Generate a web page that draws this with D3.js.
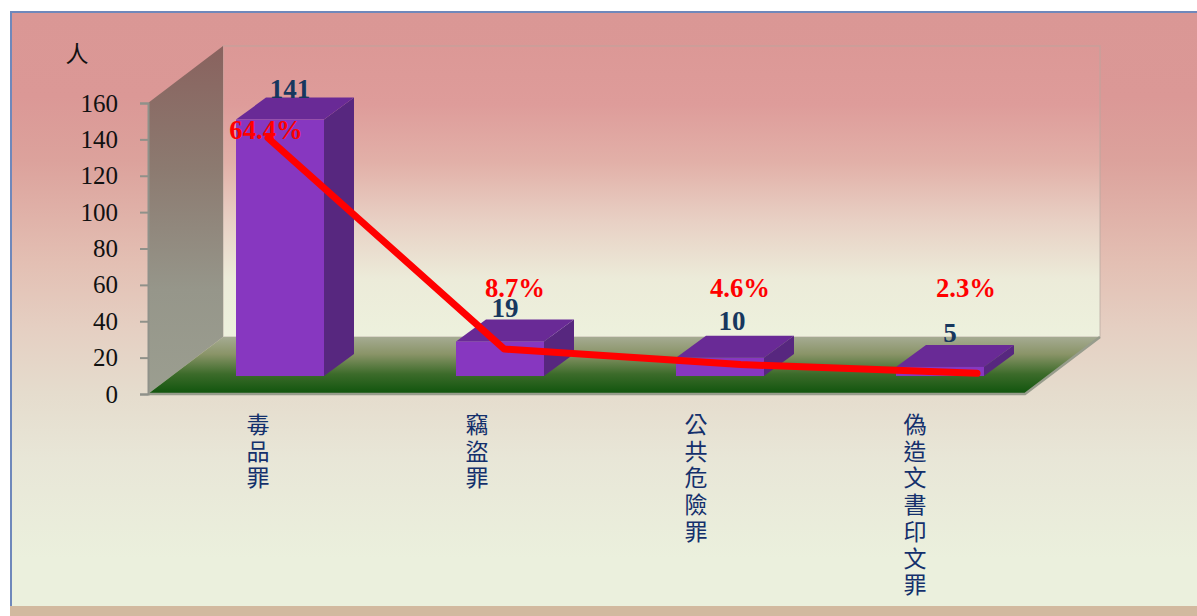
<!DOCTYPE html>
<html>
<head>
<meta charset="utf-8">
<script src="https://cdn.jsdelivr.net/npm/d3@7"></script>
<style>
  html, body { margin: 0; padding: 0; background: #fff; overflow: hidden; }
  svg { display: block; }
</style>
</head>
<body>
<div id="chart"></div>
<script>
// values
var categories = ["毒品罪", "竊盜罪", "公共危險罪", "偽造文書印文罪"];
var counts = [141, 19, 10, 5];
var shares = [64.4, 8.7, 4.6, 2.3];
var yTicks = [0, 20, 40, 60, 80, 100, 120, 140, 160];

// hand placed label nudges, the original labels were dragged around
var countNudge = [{dx: 10, dy: 0}, {dx: 5, dy: -2}, {dx: 12, dy: -6}, {dx: 10, dy: -3}];
var shareNudge = [{x: 266, y: 139}, {x: 515, y: 297}, {x: 740, y: 297}, {x: 966, y: 297}];

var width = 1197, height = 616;
var x0 = 148, x1 = 1025, yBase = 394, yTop = 103;
var depthX = 75, depthY = 57;      // floor depth
var barShiftX = 22, barShiftY = 18; // bars stand a bit back on the floor
var barDepthX = 30, barDepthY = 22;

var svg = d3.select("#chart").append("svg")
  .attr("width", width)
  .attr("height", height);

var defs = svg.append("defs");

function gradient(id, stops, horizontal) {
  var g = defs.append("linearGradient").attr("id", id)
    .attr("x1", 0).attr("y1", 0)
    .attr("x2", horizontal ? 1 : 0).attr("y2", horizontal ? 0 : 1);
  stops.forEach(function(s) {
    g.append("stop").attr("offset", s[0]).attr("stop-color", s[1]);
  });
}

gradient("bgFill", [[0, "#da9795"], [0.14, "#db9896"], [0.25, "#dca29c"], [0.42, "#e3bfb3"], [0.53, "#e5cfc2"], [0.64, "#e5dccd"], [0.75, "#e8e6d7"], [0.92, "#ebf0dd"], [1, "#ebf0dd"]]);
gradient("wallFill", [[0, "#dc9896"], [0.2, "#de9c9a"], [0.4, "#e2b0a8"], [0.6, "#e8d0c4"], [0.8, "#ecebd9"], [1, "#edf1dd"]]);
gradient("sideFill", [[0, "#89625e"], [0.35, "#8c7a70"], [0.7, "#96968a"], [1, "#9b9e90"]]);
gradient("floorFill", [[0, "#a5ab92"], [0.3, "#8a9468"], [0.65, "#3c6b2a"], [1, "#0f540c"]]);

// page background
svg.append("rect")
  .attr("x", 11).attr("y", 13)
  .attr("width", width - 11).attr("height", 593)
  .attr("fill", "url(#bgFill)");
svg.append("rect")
  .attr("x", 10).attr("y", 606)
  .attr("width", width - 10).attr("height", 10)
  .attr("fill", "#d2b99f");
svg.append("path")
  .attr("d", "M11,606V12H" + width)
  .attr("fill", "none")
  .attr("stroke", "#6f88bb")
  .attr("stroke-width", 2);

var y = d3.scaleLinear().domain([0, 160]).range([yBase, yTop]);
var xBand = d3.scaleBand().domain(categories).range([x0, 1028]).paddingInner(0.6).paddingOuter(0.3);
var xLabel = d3.scalePoint().domain(categories).range([258, 915]);
var xLine = d3.scalePoint().domain(categories).range([268, 977]);
var yShare = d3.scaleLinear().domain([0, 64.4]).range([382, 138]);

// back wall, side wall and floor
var wallTop = y(160) - depthY;
var wallBottom = yBase - depthY;
svg.append("rect")
  .attr("x", x0 + depthX).attr("y", wallTop)
  .attr("width", x1 - x0).attr("height", wallBottom - wallTop)
  .attr("fill", "url(#wallFill)")
  .attr("stroke", "#b5a79f")
  .attr("stroke-opacity", 0.5)
  .attr("stroke-width", 1.5);
svg.append("path")
  .attr("d", d3.line()([[x0, y(160)], [x0 + depthX, wallTop], [x0 + depthX, wallBottom], [x0, yBase]]) + "Z")
  .attr("fill", "url(#sideFill)");
svg.append("path")
  .attr("d", d3.line()([[x0, yBase], [x1, yBase], [x1 + depthX, wallBottom], [x0 + depthX, wallBottom]]) + "Z")
  .attr("fill", "url(#floorFill)");
svg.append("path")
  .attr("d", d3.line()([[x0, yBase], [x1, yBase], [x1 + depthX, wallBottom]]))
  .attr("fill", "none")
  .attr("stroke", "#979c8c")
  .attr("stroke-width", 2.5);

// y axis
var yAxis = svg.append("g")
  .attr("transform", "translate(" + x0 + ",0)")
  .call(d3.axisLeft(y).tickValues(yTicks).tickSize(8).tickPadding(22));
yAxis.select(".domain").attr("stroke", "#8f918a").attr("stroke-width", 2);
yAxis.selectAll(".tick line").attr("stroke", "#8f918a").attr("stroke-width", 2);
yAxis.selectAll(".tick text")
  .attr("font-family", "'Liberation Serif', serif")
  .attr("font-size", 25)
  .attr("fill", "#111");

svg.append("text")
  .attr("x", 77).attr("y", 62)
  .attr("text-anchor", "middle")
  .attr("font-family", "'Noto Sans CJK TC', sans-serif")
  .attr("font-size", 23)
  .attr("fill", "#111")
  .text("人");

// 3d bars, drawn from the band scale and the value scale
var bars = svg.selectAll("g.bar")
  .data(categories)
  .enter().append("g")
  .attr("class", "bar");

function barBox(i) {
  var left = xBand(categories[i]) + barShiftX;
  return {
    left: left,
    right: left + xBand.bandwidth(),
    top: y(counts[i]) - barShiftY,
    bottom: yBase - barShiftY
  };
}

bars.append("path")
  .attr("fill", "#57277f")
  .attr("d", function(d, i) {
    var b = barBox(i);
    return d3.line()([[b.right, b.top], [b.right + barDepthX, b.top - barDepthY],
      [b.right + barDepthX, b.bottom - barDepthY], [b.right, b.bottom]]) + "Z";
  });
bars.append("path")
  .attr("fill", "#692a96")
  .attr("d", function(d, i) {
    var b = barBox(i);
    return d3.line()([[b.left, b.top], [b.left + barDepthX, b.top - barDepthY],
      [b.right + barDepthX, b.top - barDepthY], [b.right, b.top]]) + "Z";
  });
bars.append("rect")
  .attr("fill", "#8737c0")
  .attr("x", function(d, i) { return barBox(i).left; })
  .attr("y", function(d, i) { return barBox(i).top; })
  .attr("width", xBand.bandwidth())
  .attr("height", function(d, i) { var b = barBox(i); return b.bottom - b.top; });

// red share line
var shareLine = d3.line()
  .x(function(d, i) { return xLine(categories[i]); })
  .y(function(d) { return yShare(d); });
svg.append("path")
  .datum(shares)
  .attr("d", shareLine)
  .attr("fill", "none")
  .attr("stroke", "#ff0000")
  .attr("stroke-width", 7)
  .attr("stroke-linejoin", "round")
  .attr("stroke-linecap", "round");

// count labels
svg.selectAll("text.count")
  .data(counts)
  .enter().append("text")
  .attr("class", "count")
  .attr("x", function(d, i) { return barBox(i).left + xBand.bandwidth() / 2 + countNudge[i].dx; })
  .attr("y", function(d, i) { return barBox(i).top - barDepthY + countNudge[i].dy; })
  .attr("text-anchor", "middle")
  .attr("font-family", "'Liberation Serif', serif")
  .attr("font-weight", "bold")
  .attr("font-size", 27)
  .attr("fill", "#17375e")
  .text(function(d) { return d; });

// share labels
svg.selectAll("text.share")
  .data(shares)
  .enter().append("text")
  .attr("class", "share")
  .attr("x", function(d, i) { return shareNudge[i].x; })
  .attr("y", function(d, i) { return shareNudge[i].y; })
  .attr("text-anchor", "middle")
  .attr("font-family", "'Liberation Serif', serif")
  .attr("font-weight", "bold")
  .attr("font-size", 26.7)
  .attr("fill", "#ff0000")
  .text(function(d) { return d.toFixed(1) + "%"; });

// category labels run top to bottom, one character per line
var catLabels = svg.selectAll("text.cat")
  .data(categories)
  .enter().append("text")
  .attr("class", "cat")
  .attr("text-anchor", "middle")
  .attr("font-family", "'Noto Sans CJK TC', sans-serif")
  .attr("font-size", 23)
  .attr("fill", "#14306c");
catLabels.each(function(d) {
  var t = d3.select(this);
  d.split("").forEach(function(ch, i) {
    t.append("tspan")
      .attr("x", xLabel(d))
      .attr("y", 433 + i * 26.7)
      .text(ch);
  });
});
</script>
</body>
</html>
